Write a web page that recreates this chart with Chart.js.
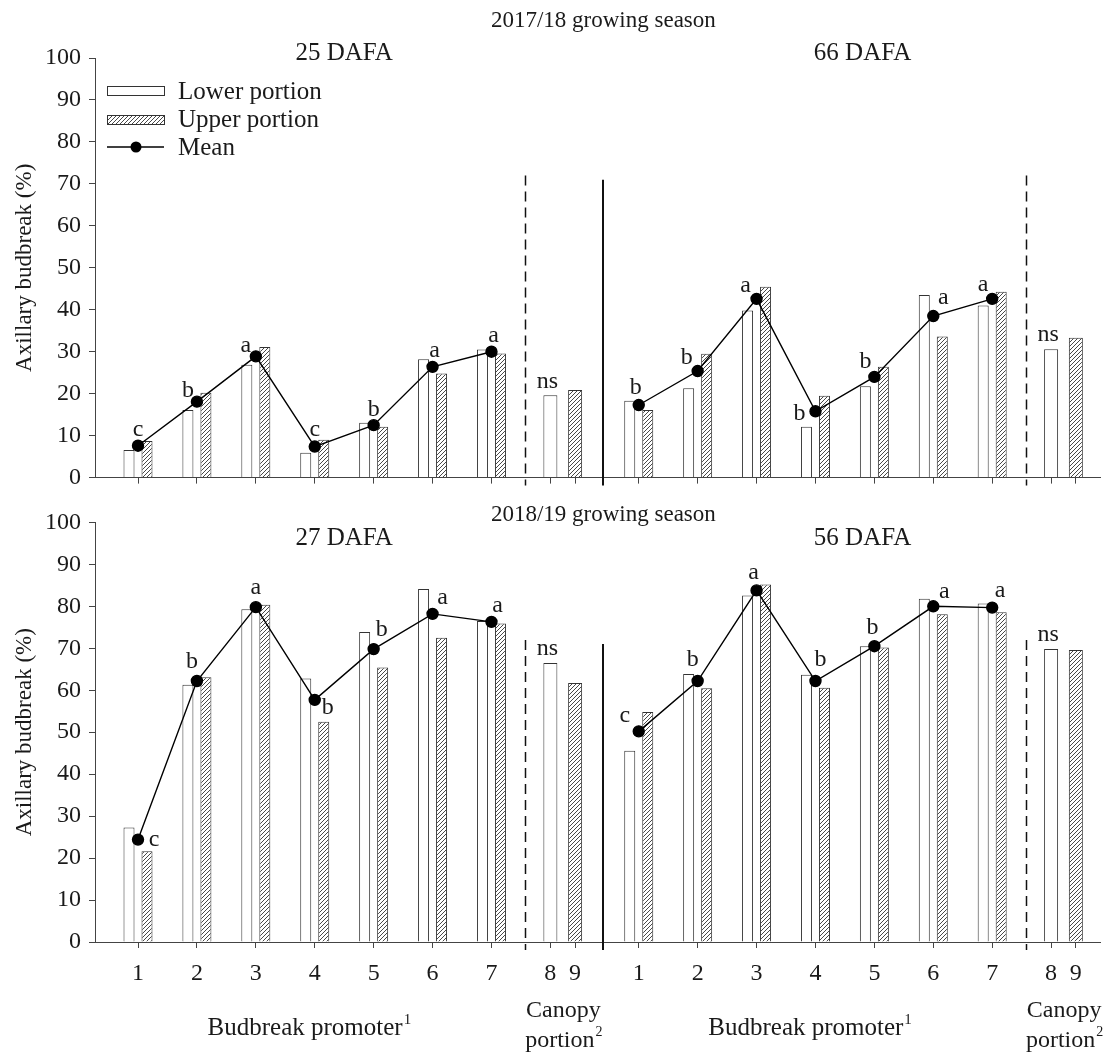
<!DOCTYPE html>
<html>
<head>
<meta charset="utf-8">
<script src="https://cdn.jsdelivr.net/npm/chart.js@4.4.0/dist/chart.umd.min.js"></script>
<style>
  html, body { margin: 0; padding: 0; background: #fff; }
  #wrap { position: relative; width: 1112px; height: 1055px; }
  #wrap canvas { position: absolute; left: 0; }
  #topChart { top: 0; }
  #bottomChart { top: 500px; }
</style>
</head>
<body>
<div id="wrap">
  <canvas id="topChart" width="1112" height="500"></canvas>
  <canvas id="bottomChart" width="1112" height="555"></canvas>
</div>
<script>
// categories and tick labels
const promoterLabels = ['1', '2', '3', '4', '5', '6', '7'];
const canopyLabels = ['8', '9'];
const yTickValues = [0, 10, 20, 30, 40, 50, 60, 70, 80, 90, 100];

// 2017/18 growing season, 25 DAFA
const lower25 = [6.6, 16.1, 26.9, 5.9, 13.1, 28.2, 30.5];
const upper25 = [8.7, 20.2, 31.1, 9.0, 12.1, 24.8, 29.6];
const mean25 = [7.6, 18.1, 28.9, 7.4, 12.5, 26.4, 30.0];
const letters25 = ['c', 'b', 'a', 'c', 'b', 'a', 'a'];
const canopy25 = [19.6, 20.9];

// 2017/18 growing season, 66 DAFA
const lower66 = [18.3, 21.3, 39.8, 12.1, 21.8, 43.5, 41.0];
const upper66 = [16.1, 29.5, 45.5, 19.5, 26.4, 33.6, 44.3];
const mean66 = [17.3, 25.4, 42.6, 15.8, 24.0, 38.5, 42.6];
const letters66 = ['b', 'b', 'a', 'b', 'b', 'a', 'a'];
const canopy66 = [30.6, 33.3];

// 2018/19 growing season, 27 DAFA
const lower27 = [27.3, 61.3, 79.3, 62.8, 73.9, 84.1, 76.5];
const upper27 = [21.6, 63.1, 80.4, 52.5, 65.4, 72.5, 75.9];
const mean27 = [24.4, 62.2, 79.8, 57.7, 69.8, 78.2, 76.3];
const letters27 = ['c', 'b', 'a', 'b', 'b', 'a', 'a'];
const canopy27 = [66.5, 61.7];

// 2018/19 growing season, 56 DAFA
const lower56 = [45.6, 63.9, 82.6, 63.7, 70.5, 81.8, 80.7];
const upper56 = [54.8, 60.5, 85.2, 60.6, 70.2, 78.1, 78.6];
const mean56 = [50.2, 62.2, 83.8, 62.2, 70.5, 80.0, 79.7];
const letters56 = ['c', 'b', 'a', 'b', 'b', 'a', 'a'];
const canopy56 = [69.8, 69.6];

const canopyLetter = 'ns';

// layout (x axis units, one unit = one promoter slot)
const slotPos = [1, 2, 3, 4, 5, 6, 7, 8, 8.42];
const panelShift = 8.5;
const dashedPos = 7.57;
const solidPos = 8.9;
const xMin = 0.27, xMax = 17.33;
const FONT = '"Liberation Serif", "Times New Roman", serif';

// letter placement around each mean point, in px
const offsets25 = [[0, -16], [-9, -11], [-10, -11], [0, -17], [0, -15], [2, -16], [2, -16]];
const offsets66 = [[-3, -17], [-11, -13], [-11, -13], [-16, 2], [-9, -15], [10, -18], [-9, -14]];
const offsets27 = [[16, 0], [-5, -19], [0, -19], [13, 8], [8, -19], [10, -16], [6, -16]];
const offsets56 = [[-14, -16], [-5, -21], [-3, -18], [5, -21], [-2, -18], [11, -15], [8, -17]];

Chart.defaults.font.family = FONT;
Chart.defaults.color = '#1a1a1a';

function makeHatch(ctx) {
    const c = document.createElement('canvas');
    c.width = 4; c.height = 4;
    const g = c.getContext('2d');
    g.fillStyle = '#fff';
    g.fillRect(0, 0, 4, 4);
    g.strokeStyle = '#333';
    g.lineWidth = 0.9;
    g.beginPath();
    g.moveTo(0, 4); g.lineTo(4, 0);
    g.moveTo(-1, 1); g.lineTo(1, -1);
    g.moveTo(3, 5); g.lineTo(5, 3);
    g.stroke();
    return ctx.createPattern(c, 'repeat');
}

function drawWithSup(ctx, text, sup, cx, base, size) {
    const supSize = Math.round(size * 0.6);
    ctx.font = size + 'px ' + FONT;
    const w1 = ctx.measureText(text).width;
    ctx.font = supSize + 'px ' + FONT;
    const w2 = ctx.measureText(sup).width;
    const left = cx - (w1 + w2) / 2;
    ctx.textAlign = 'left';
    ctx.textBaseline = 'alphabetic';
    ctx.font = size + 'px ' + FONT;
    ctx.fillText(text, left, base);
    ctx.font = supSize + 'px ' + FONT;
    ctx.fillText(sup, left + w1 + 1, base - size * 0.45);
}

function notesPlugin(panels, cfg) {
    return {
        id: 'panelNotes',
        afterDatasetsDraw(chart) {
            const { ctx, chartArea, scales: { x, y } } = chart;
            ctx.save();
            ctx.strokeStyle = '#111';

            // panel separators
            panels.forEach((p, k) => {
                const xd = Math.round(x.getPixelForValue(dashedPos + k * panelShift)) + 0.5;
                ctx.setLineDash([10, 6]);
                ctx.lineWidth = 1.5;
                ctx.beginPath();
                ctx.moveTo(xd, y.getPixelForValue(72));
                ctx.lineTo(xd, chartArea.bottom + 8);
                ctx.stroke();
            });
            ctx.setLineDash([]);
            ctx.lineWidth = 2;
            const xs = Math.round(x.getPixelForValue(solidPos));
            ctx.beginPath();
            ctx.moveTo(xs, y.getPixelForValue(71));
            ctx.lineTo(xs, chartArea.bottom + 8);
            ctx.stroke();

            // significance letters
            const meanMeta = chart.getDatasetMeta(0);
            const canopyMeta = chart.getDatasetMeta(3);
            ctx.fillStyle = '#1a1a1a';
            ctx.font = '24px ' + FONT;
            ctx.textAlign = 'center';
            ctx.textBaseline = 'middle';
            panels.forEach((p, k) => {
                p.letters.forEach((l, i) => {
                    const pt = meanMeta.data[k * 9 + i];
                    ctx.fillText(l, pt.x + p.offsets[i][0], pt.y + p.offsets[i][1]);
                });
                const bar = canopyMeta.data[k * 9 + 7];
                ctx.fillText(canopyLetter, bar.x - 3, bar.y - 14);
            });

            // panel and season titles
            ctx.textBaseline = 'alphabetic';
            ctx.font = '25px ' + FONT;
            panels.forEach((p, k) => {
                ctx.fillText(p.title, x.getPixelForValue(p.titlePos), cfg.panelTitleBase);
            });
            ctx.font = '23px ' + FONT;
            ctx.fillText(cfg.season, x.getPixelForValue(solidPos), cfg.seasonBase);

            // legend
            if (cfg.legend) {
                const lx = chartArea.left + 12, lw = 57, tx = chartArea.left + 83;
                ctx.lineWidth = 1;
                ctx.strokeStyle = '#333';
                ctx.fillStyle = '#fff';
                ctx.fillRect(lx, 86, lw, 9);
                ctx.strokeRect(lx + 0.5, 86.5, lw, 9);
                ctx.fillStyle = cfg.hatch;
                ctx.fillRect(lx, 115, lw, 9);
                ctx.strokeRect(lx + 0.5, 115.5, lw, 9);
                ctx.strokeStyle = '#000';
                ctx.lineWidth = 1.3;
                ctx.beginPath();
                ctx.moveTo(lx, 147);
                ctx.lineTo(lx + lw, 147);
                ctx.stroke();
                ctx.fillStyle = '#000';
                ctx.beginPath();
                ctx.arc(lx + 29, 147, 5.5, 0, Math.PI * 2);
                ctx.fill();
                ctx.fillStyle = '#1a1a1a';
                ctx.font = '25px ' + FONT;
                ctx.textAlign = 'left';
                ctx.fillText('Lower portion', tx, 99);
                ctx.fillText('Upper portion', tx, 127);
                ctx.fillText('Mean', tx, 155);
            }

            // x axis group labels
            if (cfg.groupLabels) {
                ctx.fillStyle = '#1a1a1a';
                panels.forEach((p, k) => {
                    const shift = k * panelShift;
                    drawWithSup(ctx, 'Budbreak promoter', '1', x.getPixelForValue(3.9 + shift), 535, 25);
                    ctx.font = '24px ' + FONT;
                    ctx.textAlign = 'center';
                    const cx = x.getPixelForValue(8.22 + shift);
                    ctx.fillText('Canopy', cx, 517);
                    drawWithSup(ctx, 'portion', '2', cx, 547, 24);
                });
            }
            ctx.restore();
        }
    };
}

function makeChart(canvasId, panels, cfg) {
    const el = document.getElementById(canvasId);
    const hatch = makeHatch(el.getContext('2d'));
    cfg.hatch = hatch;

    const lowerPts = [], upperPts = [], canLowPts = [], canUpPts = [], meanPts = [];
    const tickSlots = [], tickLabels = [];
    panels.forEach((p, k) => {
        const shift = k * panelShift;
        promoterLabels.forEach((lab, i) => {
            const xv = slotPos[i] + shift;
            lowerPts.push({ x: xv, y: p.lower[i] });
            upperPts.push({ x: xv, y: p.upper[i] });
            canLowPts.push({ x: xv, y: null });
            canUpPts.push({ x: xv, y: null });
            meanPts.push({ x: xv, y: p.mean[i] });
            tickSlots.push(xv);
            tickLabels.push(lab);
        });
        canopyLabels.forEach((lab, j) => {
            const xv = slotPos[7 + j] + shift;
            lowerPts.push({ x: xv, y: null });
            upperPts.push({ x: xv, y: null });
            canLowPts.push({ x: xv, y: j === 0 ? p.canopy[0] : null });
            canUpPts.push({ x: xv, y: j === 1 ? p.canopy[1] : null });
            meanPts.push({ x: xv, y: null });
            tickSlots.push(xv);
            tickLabels.push(lab);
        });
    });

    const barBase = {
        borderColor: '#333',
        borderWidth: 1,
        skipNull: true,
        inflateAmount: 0,
        order: 1
    };

    return new Chart(el, {
        type: 'bar',
        data: {
            datasets: [
                {
                    type: 'line',
                    label: 'Mean',
                    data: meanPts,
                    borderColor: '#000',
                    borderWidth: 1.4,
                    pointRadius: 5.5,
                    pointBackgroundColor: '#000',
                    pointBorderColor: '#000',
                    spanGaps: false,
                    order: 0
                },
                Object.assign({ label: 'Lower portion', data: lowerPts, backgroundColor: '#fff', barThickness: 18, maxBarThickness: 11 }, barBase),
                Object.assign({ label: 'Upper portion', data: upperPts, backgroundColor: hatch, barThickness: 18, maxBarThickness: 11 }, barBase),
                Object.assign({ label: 'Lower portion', data: canLowPts, backgroundColor: '#fff', barThickness: 14 }, barBase),
                Object.assign({ label: 'Upper portion', data: canUpPts, backgroundColor: hatch, barThickness: 14 }, barBase)
            ]
        },
        options: {
            responsive: false,
            animation: false,
            events: [],
            layout: { padding: { top: cfg.padTop, right: 12, left: 0, bottom: 0 } },
            plugins: {
                legend: { display: false },
                tooltip: { enabled: false }
            },
            scales: {
                x: {
                    type: 'linear',
                    min: xMin,
                    max: xMax,
                    offset: false,
                    afterBuildTicks(scale) { scale.ticks = tickSlots.map(v => ({ value: v })); },
                    afterFit(scale) { scale.height = cfg.xHeight; },
                    ticks: {
                        display: cfg.xLabels,
                        autoSkip: false,
                        maxRotation: 0,
                        padding: 11,
                        font: { size: 24 },
                        callback: (v, i) => tickLabels[i]
                    },
                    grid: { offset: false, drawOnChartArea: false, drawTicks: true, tickLength: 6, color: '#444' },
                    border: { color: '#444', width: 1 }
                },
                y: {
                    min: 0,
                    max: 100,
                    afterBuildTicks(scale) { scale.ticks = yTickValues.map(v => ({ value: v })); },
                    afterFit(scale) { scale.width = 95; },
                    ticks: { padding: 8, font: { size: 24 } },
                    grid: { drawOnChartArea: false, drawTicks: true, tickLength: 6, color: '#444' },
                    border: { color: '#444', width: 1 },
                    title: {
                        display: true,
                        text: 'Axillary budbreak (%)',
                        font: { size: 23 },
                        padding: { top: 11, bottom: 0 }
                    }
                }
            }
        },
        plugins: [notesPlugin(panels, cfg)]
    });
}

makeChart('topChart', [
    { title: '25 DAFA', titlePos: 4.5, lower: lower25, upper: upper25, mean: mean25, letters: letters25, canopy: canopy25, offsets: offsets25 },
    { title: '66 DAFA', titlePos: 13.3, lower: lower66, upper: upper66, mean: mean66, letters: letters66, canopy: canopy66, offsets: offsets66 }
], { season: '2017/18 growing season', seasonBase: 27, panelTitleBase: 60, padTop: 58, xHeight: 19, xLabels: false, legend: true, groupLabels: false });

makeChart('bottomChart', [
    { title: '27 DAFA', titlePos: 4.5, lower: lower27, upper: upper27, mean: mean27, letters: letters27, canopy: canopy27, offsets: offsets27 },
    { title: '56 DAFA', titlePos: 13.3, lower: lower56, upper: upper56, mean: mean56, letters: letters56, canopy: canopy56, offsets: offsets56 }
], { season: '2018/19 growing season', seasonBase: 21, panelTitleBase: 45, padTop: 17, xHeight: 113, xLabels: true, legend: false, groupLabels: true });
</script>
</body>
</html>
